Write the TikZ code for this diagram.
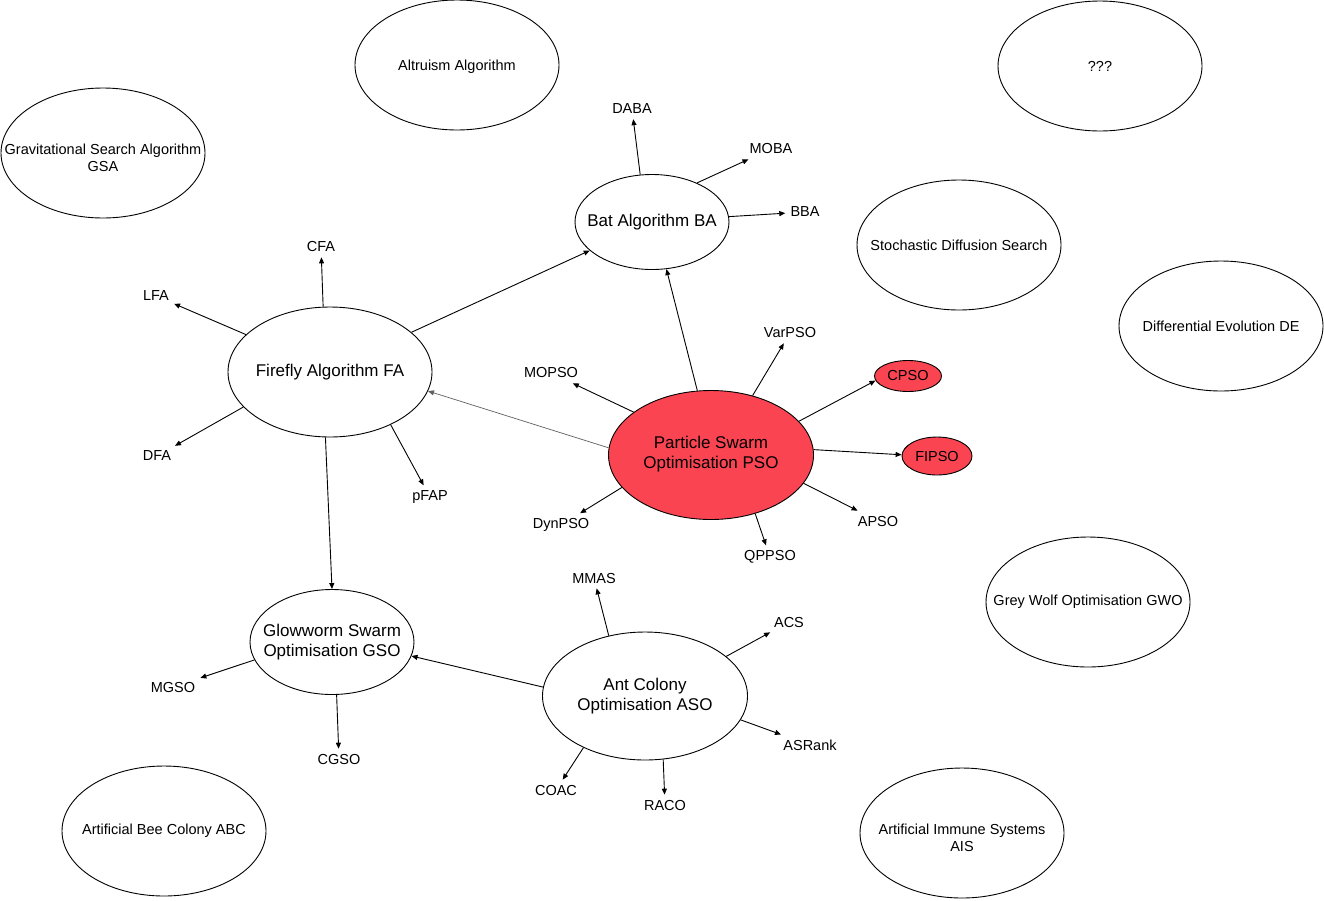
\documentclass[tikz,border=0pt]{standalone}
\usepackage{fontspec}
\setmainfont{Liberation Sans}
\usetikzlibrary{shapes.geometric,arrows.meta}
\definecolor{psored}{RGB}{250,68,82}
\definecolor{linkgrey}{RGB}{95,95,95}
\begin{document}
\begin{tikzpicture}[x=1pt,y=-1pt,
	algo/.style={draw,ellipse,line width=0.9pt,inner sep=0pt,minimum width=204pt,minimum height=130pt},
	lbl/.style={align=center,inner sep=0pt,font=\fontsize{14.5}{16.5}\selectfont},
	biglbl/.style={align=center,inner sep=0pt,font=\fontsize{17}{19.5}\selectfont},
	var/.style={inner sep=5pt,font=\fontsize{14.5}{16.5}\selectfont},
	link/.style={-{Triangle[length=6pt,width=5pt]},line width=0.9pt}]
		\useasboundingbox (0,0) rectangle (1324,900);
		% algorithms without variants
		\node[algo,label={[lbl,yshift=-2pt]center:Altruism Algorithm}] (altruism) at (457,65) {};
		\node[algo,label={[lbl]center:???}] (unknown) at (1100,66) {};
		\node[algo,label={[lbl,yshift=-5pt]center:Gravitational Search Algorithm\\GSA}] (gsa) at (103,153) {};
		\node[algo,label={[lbl]center:Stochastic Diffusion Search}] (sds) at (959,245) {};
		\node[algo,label={[lbl]center:Differential Evolution DE}] (de) at (1221,326) {};
		\node[algo,label={[lbl]center:Grey Wolf Optimisation GWO}] (gwo) at (1088,602) {};
		\node[algo,label={[lbl]center:Artificial Bee Colony ABC}] (abc) at (164,831) {};
		\node[algo,label={[lbl,yshift=-5pt]center:Artificial Immune Systems\\AIS}] (ais) at (962,833) {};
		% main algorithms
		\node[algo,minimum width=154pt,minimum height=95pt,label={[biglbl]center:Bat Algorithm BA}] (ba) at (652,222) {};
		\node[algo,label={[biglbl]center:Firefly Algorithm FA}] (fa) at (330,372) {};
		\node[algo,fill=psored,minimum width=205pt,minimum height=129pt,label={[biglbl,yshift=1pt]center:Particle Swarm\\Optimisation PSO}] (pso) at (711,455) {};
		\node[algo,minimum width=164pt,minimum height=105pt,label={[biglbl]center:Glowworm Swarm\\Optimisation GSO}] (gso) at (332,642) {};
		\node[algo,minimum width=205pt,minimum height=128pt,label={[biglbl]center:Ant Colony\\Optimisation ASO}] (aso) at (645,696) {};
		\node[algo,fill=psored,minimum width=67pt,minimum height=31pt,label={[lbl]center:CPSO}] (cpso) at (908,376) {};
		\node[algo,fill=psored,minimum width=70pt,minimum height=38pt,label={[lbl]center:FIPSO}] (fipso) at (937,456) {};
		% variants
		\node[var] (daba) at (632,109) {DABA};
		\node[var] (moba) at (771,149) {MOBA};
		\node[var] (bba) at (805,212) {BBA};
		\node[var] (cfa) at (321,247) {CFA};
		\node[var] (lfa) at (156,296) {LFA};
		\node[var] (dfa) at (157,456) {DFA};
		\node[var] (pfap) at (430,497) {pFAP};
		\node[var] (varpso) at (790,333) {VarPSO};
		\node[var] (mopso) at (551,373) {MOPSO};
		\node[var] (dynpso) at (561,525) {DynPSO};
		\node[var] (qppso) at (770,557) {QPPSO};
		\node[var] (apso) at (878,521) {APSO};
		\node[var] (mmas) at (594,578) {MMAS};
		\node[var] (acs) at (789,622) {ACS};
		\node[var] (asrank) at (810,745) {ASRank};
		\node[var] (coac) at (556,790) {COAC};
		\node[var] (raco) at (665,805) {RACO};
		\node[var] (mgso) at (173,687) {MGSO};
		\node[var] (cgso) at (339,759) {CGSO};
		% links
		\draw[link] (ba.104) -- (daba);
		\draw[link] (ba.41) -- (moba);
		\draw[link] (ba.4) -- (bba);
		\draw[link] (fa.96) -- (cfa);
		\draw[link] (fa.156) -- (lfa);
		\draw[link] (fa.202) -- (dfa);
		\draw[link] (fa.-41) -- (pfap);
		\draw[link] (fa.26) -- (ba);
		\draw[link] (fa.-94) -- (gso.north);
		\draw[link,draw=linkgrey,line width=0.7pt] (pso.176) -- (fa.-11);
		\draw[link] (pso.102) -- (ba.-73);
		\draw[link] (pso.55) -- (varpso);
		\draw[link] (pso.151) -- (mopso);
		\draw[link] (pso.200) -- (dynpso);
		\draw[link] (pso.-53) -- (qppso);
		\draw[link] (pso.-17) -- (apso);
		\draw[link] (pso.21) -- (cpso.188);
		\draw[link] (pso.3) -- (fipso.178);
		\draw[link] (aso.121) -- (mmas);
		\draw[link] (aso.26) -- (acs);
		\draw[link] (aso.-14) -- (asrank);
		\draw[link] (aso.220) -- (coac);
		\draw[link] (aso.-74) -- (raco);
		\draw[link] (aso.175) -- (gso.-10);
		\draw[link] (gso.193) -- (mgso);
		\draw[link] (gso.-85) -- (cgso);
\end{tikzpicture}
\end{document}
